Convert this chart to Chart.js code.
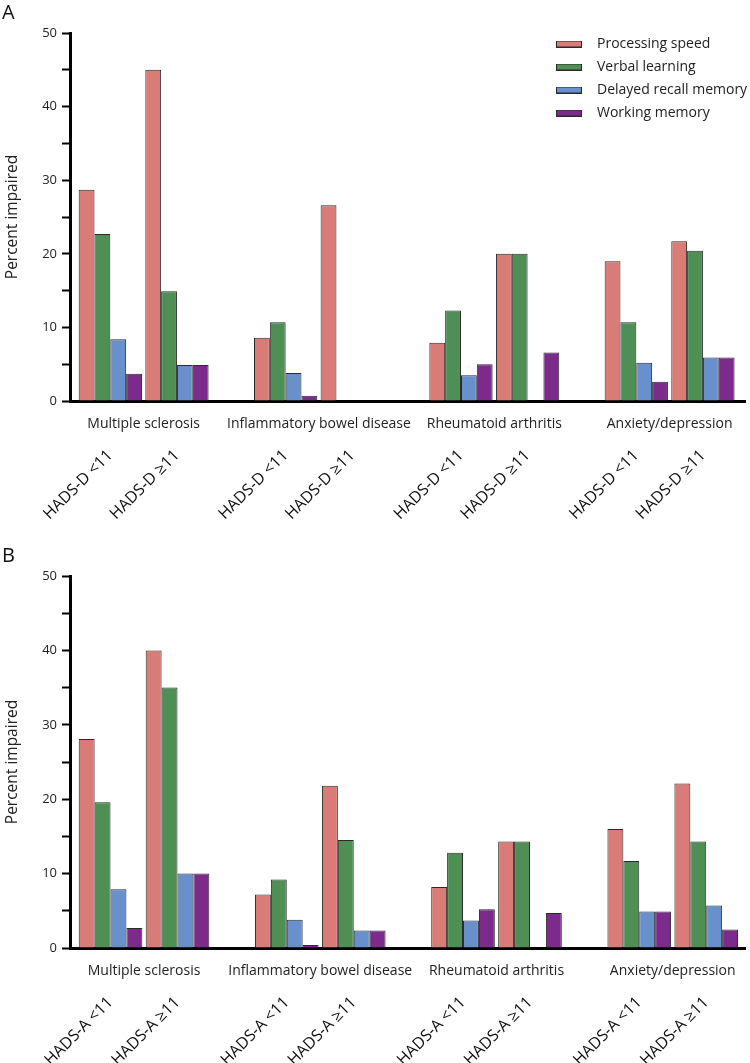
<!DOCTYPE html>
<html>
<head>
<meta charset="utf-8">
<script src="https://cdn.jsdelivr.net/npm/chart.js@4.4.1/dist/chart.umd.min.js"></script>
<style>
  html, body { margin: 0; padding: 0; background: #fff; }
  .panel { position: relative; width: 750px; }
  #panelA { height: 540px; }
  #panelB { height: 523px; }
</style>
</head>
<body>
<div class="panel" id="panelA"><canvas id="chartA"></canvas></div>
<div class="panel" id="panelB"><canvas id="chartB"></canvas></div>
<script>
const diseases = ['Multiple sclerosis', 'Inflammatory bowel disease', 'Rheumatoid arthritis', 'Anxiety/depression'];
const measures = ['Processing speed', 'Verbal learning', 'Delayed recall memory', 'Working memory'];
const colors = ['#d97b76', '#4f8f56', '#6890cc', '#7c2b8c'];
const yTicks = [0, 10, 20, 30, 40, 50];

// A: split by HADS-D (values per disease, order as in diseases)
const levelsA = ['HADS-D <11', 'HADS-D ≥11'];
const speedA = [[28.7, 8.6, 7.9, 19.0], [45.0, 26.6, 20.0, 21.7]];
const verbalA = [[22.7, 10.7, 12.3, 10.7], [14.9, 0, 20.0, 20.4]];
const recallA = [[8.4, 3.8, 3.5, 5.2], [4.9, 0, 0, 5.9]];
const workingA = [[3.7, 0.7, 5.0, 2.6], [4.9, 0, 6.6, 5.9]];

// B: split by HADS-A
const levelsB = ['HADS-A <11', 'HADS-A ≥11'];
const speedB = [[28.1, 7.2, 8.2, 16.0], [40.0, 21.8, 14.3, 22.1]];
const verbalB = [[19.6, 9.2, 12.8, 11.7], [35.0, 14.5, 14.3, 14.3]];
const recallB = [[7.9, 3.8, 3.7, 4.9], [10.0, 2.35, 0, 5.7]];
const workingB = [[2.7, 0.4, 5.2, 4.9], [10.0, 2.35, 4.7, 2.5]];

Chart.defaults.font.family = "'Open Sans', sans-serif";
Chart.defaults.color = '#222';

const PAIR_OFFSET = 0.19;

// small outlined swatches for the legend (wider gap to the text than the default box)
function swatch(color) {
  const c = document.createElement('canvas');
  c.width = 26;
  c.height = 7;
  const g = c.getContext('2d');
  g.fillStyle = color;
  g.fillRect(0, 0, 26, 7);
  g.strokeStyle = '#2a2a2a';
  g.lineWidth = 1;
  g.strokeRect(0.5, 0.5, 25, 6);
  return c;
}
const swatches = colors.map(swatch);

// move the legend into the top right of the plot
const legendPlacer = {
  id: 'legendPlacer',
  afterLayout(chart) {
    const lg = chart.legend;
    if (!lg) return;
    lg.left = chart.chartArea.right - 206;
    lg.right = chart.width;
    lg.top = chart.chartArea.top - 5;
  }
};

function makePanel(id, panelTitle, levels, series, xMin, xMax, titleTop, hadsHeight, showLegend) {
  const pairPos = [];
  const pairLabels = [];
  diseases.forEach((d, i) => {
    pairPos.push(i - PAIR_OFFSET, i + PAIR_OFFSET);
    pairLabels.push(levels[0], levels[1]);
  });

  const datasets = measures.map((m, k) => ({
    label: m,
    data: diseases.flatMap((d, i) => [
      { x: i - PAIR_OFFSET, y: series[k][0][i] },
      { x: i + PAIR_OFFSET, y: series[k][1][i] }
    ]),
    backgroundColor: colors[k],
    borderColor: '#2a2a2a',
    borderWidth: 1,
    borderSkipped: 'start',
    barPercentage: 1,
    categoryPercentage: 0.95
  }));

  return new Chart(document.getElementById(id), {
    type: 'bar',
    data: { datasets },
    plugins: [legendPlacer],
    options: {
      responsive: true,
      maintainAspectRatio: false,
      animation: false,
      layout: { padding: { left: 2, right: 5, top: 0, bottom: 0 } },
      plugins: {
        tooltip: { enabled: false },
        title: {
          display: true,
          text: panelTitle,
          align: 'start',
          color: '#111',
          font: { size: 20, weight: 'normal' },
          padding: { top: titleTop, bottom: 8 }
        },
        legend: {
          display: showLegend,
          position: 'chartArea',
          align: 'start',
          labels: {
            usePointStyle: true,
            pointStyleWidth: 42,
            padding: 9,
            color: '#222',
            font: { size: 14 },
            generateLabels: chart => {
              const items = Chart.defaults.plugins.legend.labels.generateLabels(chart);
              items.forEach(it => { it.pointStyle = swatches[it.datasetIndex]; });
              return items;
            }
          }
        }
      },
      scales: {
        x: {
          type: 'linear',
          position: 'bottom',
          offset: false,
          min: xMin,
          max: xMax,
          weight: 0,
          grid: { display: false },
          border: { color: '#000', width: 3 },
          afterBuildTicks: s => { s.ticks = diseases.map((d, i) => ({ value: i })); },
          afterFit: s => { s.height = 33; },
          ticks: {
            autoSkip: false,
            maxRotation: 0,
            padding: 7,
            color: '#222',
            font: { size: 14 },
            callback: (v, i) => diseases[i]
          }
        },
        hads: {
          type: 'linear',
          position: 'bottom',
          offset: false,
          min: xMin,
          max: xMax,
          weight: 1,
          grid: { display: false },
          border: { display: false },
          afterBuildTicks: s => { s.ticks = pairPos.map(v => ({ value: v })); },
          afterFit: s => { s.height = hadsHeight; },
          ticks: {
            autoSkip: false,
            minRotation: 45,
            maxRotation: 45,
            padding: 4,
            color: '#111',
            font: { size: 16 },
            callback: (v, i) => pairLabels[i]
          }
        },
        y: {
          min: yTicks[0],
          max: yTicks[yTicks.length - 1],
          afterFit: s => { s.width = 68; },
          grid: { drawOnChartArea: false, drawTicks: true, tickLength: 8, tickWidth: 2, tickColor: '#000' },
          border: { color: '#000', width: 3 },
          ticks: {
            stepSize: 5,
            padding: 5,
            color: '#222',
            font: { size: 13 },
            callback: v => (yTicks.includes(v) ? v : '')
          },
          title: {
            display: true,
            text: 'Percent impaired',
            color: '#222',
            font: { size: 15.5 },
            padding: { top: 1, bottom: 0 }
          }
        }
      }
    }
  });
}

makePanel('chartA', 'A', levelsA,
  [speedA, verbalA, recallA, workingA], -0.42, 3.43, 1, 106, true);
makePanel('chartB', 'B', levelsB,
  [speedB, verbalB, recallB, workingB], -0.42, 3.41, 4, 82, false);
</script>
</body>
</html>
